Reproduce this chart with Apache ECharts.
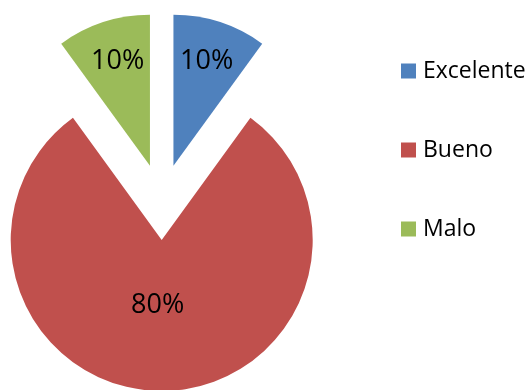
<!DOCTYPE html>
<html>
<head>
<meta charset="utf-8">
<script src="https://cdn.jsdelivr.net/npm/echarts@6/dist/echarts.min.js"></script>
<style>html,body{margin:0;padding:0;background:#fff;}#chart{width:529px;height:390px;}</style>
</head>
<body>
<div id="chart"></div>
<script>
const categories = ['Excelente', 'Bueno', 'Malo'];
const values = [10, 80, 10];
const colors = ['#4F81BD', '#C0504D', '#9BBB59'];

const labelShift = [[9, -30], [-4, -13], [-8, -30]];
const chart = echarts.init(document.getElementById('chart'));
chart.setOption({
  animation: false,
  legend: {
    orient: 'vertical',
    left: 401,
    top: 59,
    padding: 0,
    itemWidth: 15,
    itemHeight: 15,
    itemGap: 55,
    icon: 'rect',
    data: categories,
    textStyle: { fontFamily: 'Open Sans', fontSize: 23, color: '#000', lineHeight: 24, padding: [0, 0, 0, 2] }
  },
  series: [{
    type: 'pie',
    center: [161.7, 202],
    radius: 151,
    startAngle: 90,
    clockwise: true,
    selectedMode: 'multiple',
    selectedOffset: 38,
    silent: true,
    label: {
      show: true,
      position: 'inside',
      formatter: '{d}%',
      fontFamily: 'Open Sans',
      fontSize: 27,
      color: '#000'
    },
    labelLayout: function (p) {
      return { dx: labelShift[p.dataIndex][0], dy: labelShift[p.dataIndex][1] };
    },
    labelLine: { show: false },
    emphasis: { disabled: true },
    data: categories.map((c, i) => ({
      name: c,
      value: values[i],
      selected: true,
      itemStyle: { color: colors[i] }
    }))
  }]
});
</script>
</body>
</html>
